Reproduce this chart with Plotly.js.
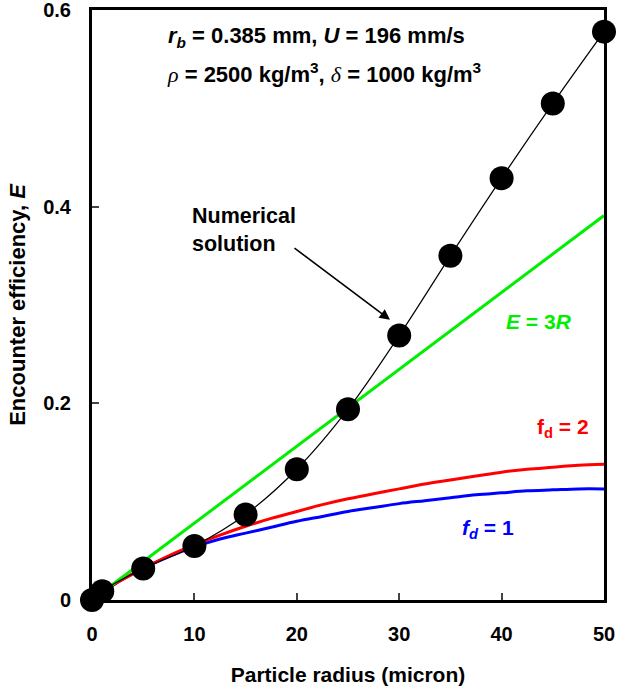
<!DOCTYPE html>
<html><head><meta charset="utf-8">
<script src="https://cdn.plot.ly/plotly-3.0.1.min.js"></script>
<style>body{margin:0;background:#fff}#c{width:617px;height:692px}</style>
</head><body><div id="c"></div>
<script>
// Numerical solution
const numX = [0, 1, 5, 10, 15, 20, 25, 30, 35, 40, 45, 50];
const numY = [0, 0.009, 0.032, 0.055, 0.087, 0.133, 0.194, 0.269, 0.350, 0.429, 0.505, 0.578];
// E = 3R line
const linX = [0, 50];
const linY = [0, 0.391];
// Analytic curves
const curveX = [0, 2.5, 5, 7.5, 10, 12.5, 15, 17.5, 20, 22.5, 25, 27.5, 30, 32.5, 35, 37.5, 40, 42.5, 45, 47.5, 50];
const fd2Y = [0, 0.018, 0.032, 0.045, 0.056, 0.066, 0.075, 0.083, 0.090, 0.097, 0.103, 0.108, 0.113, 0.118, 0.122, 0.126, 0.130, 0.133, 0.135, 0.137, 0.138];
const fd1Y = [0, 0.018, 0.032, 0.044, 0.054, 0.062, 0.068, 0.074, 0.080, 0.085, 0.090, 0.094, 0.098, 0.101, 0.104, 0.107, 0.109, 0.111, 0.112, 0.113, 0.113];
const xTicks = [0, 10, 20, 30, 40, 50];
const yTicks = [0, 0.2, 0.4, 0.6];
const yTickText = ['0', '0.2', '0.4', '0.6'];

const F = 'Liberation Sans, Arial, sans-serif';
const SER = 'font-family:Liberation Serif, Times New Roman, serif;font-weight:normal';
const traces = [
  {x: curveX, y: fd1Y, mode: 'lines', line: {color: '#0000ff', width: 3, shape: 'spline'}, cliponaxis: false},
  {x: curveX, y: fd2Y, mode: 'lines', line: {color: '#ff0000', width: 3, shape: 'spline'}, cliponaxis: false},
  {x: linX, y: linY, mode: 'lines', line: {color: '#00ee00', width: 3}, cliponaxis: false},
  {x: numX, y: numY, mode: 'lines+markers', line: {color: '#000', width: 1.2, shape: 'spline'},
   marker: {color: '#000', size: 24}, cliponaxis: false}
];
const layout = {
  width: 617, height: 692, showlegend: false,
  margin: {l: 92, r: 13, t: 10, b: 92},
  paper_bgcolor: '#fff', plot_bgcolor: '#fff',
  font: {family: F, color: '#000', size: 20},
  xaxis: {range: [0, 50], tickvals: xTicks, ticks: 'inside', ticklen: 7, tickwidth: 2,
    showline: true, linewidth: 3, linecolor: '#000', mirror: true, showgrid: false, zeroline: false,
    tickfont: {family: F, size: 20, color: '#000', weight: 'bold'}, ticklabelstandoff: 14,
    ticklabeloverflow: 'allow',
    title: {text: '<b>Particle radius (micron)</b>', font: {family: F, size: 21}, standoff: 24}},
  yaxis: {range: [0, 0.6], tickvals: yTicks, ticktext: yTickText, ticks: 'inside', ticklen: 7, tickwidth: 2,
    showline: true, linewidth: 3, linecolor: '#000', mirror: true, showgrid: false, zeroline: false,
    tickfont: {family: F, size: 20, color: '#000', weight: 'bold'}, ticklabelstandoff: 14,
    ticklabeloverflow: 'allow',
    title: {text: '<b>Encounter efficiency, <i>E</i></b>', font: {family: F, size: 22}, standoff: 12}},
  annotations: [
    {xref: 'paper', yref: 'paper', x: 0.4375, y: 0.954, showarrow: false, xanchor: 'center', yanchor: 'middle',
     text: '<b><i>r</i><sub><i>b</i></sub> = 0.385 mm, <i>U</i> = 196 mm/s</b>', font: {size: 22}},
    {xref: 'paper', yref: 'paper', x: 0.453, y: 0.893, showarrow: false, xanchor: 'center', yanchor: 'middle',
     text: '<span style="' + SER + '"><i>ρ</i></span><b> = 2500 kg/m<sup>3</sup>, </b><span style="' + SER + '"><i>δ</i></span><b> = 1000 kg/m<sup>3</sup></b>', font: {size: 22}},
    {xref: 'paper', yref: 'paper', x: 0.191, y: 0.627, showarrow: false, xanchor: 'left', yanchor: 'middle', align: 'left',
     text: '<b>Numerical<br>solution</b>', font: {size: 21.5}},
    {xref: 'x', yref: 'y', x: 29.1, y: 0.285, ax: 19.63, ay: 0.359, axref: 'x', ayref: 'y',
     showarrow: true, arrowhead: 2, arrowsize: 1.3, arrowwidth: 1.6, arrowcolor: '#000', text: ''},
    {xref: 'x', yref: 'y', x: 43.65, y: 0.283, showarrow: false,
     text: '<b><i>E</i> = 3<i>R</i></b>', font: {size: 21, color: '#00ee00'}},
    {xref: 'x', yref: 'y', x: 46.0, y: 0.1745, showarrow: false,
     text: '<b>f<sub>d</sub> = 2</b>', font: {size: 21, color: '#ff0000'}},
    {xref: 'x', yref: 'y', x: 38.7, y: 0.0724, showarrow: false,
     text: '<b><i>f<sub>d</sub></i> = 1</b>', font: {size: 21, color: '#0000ff'}}
  ]
};
Plotly.newPlot('c', traces, layout, {staticPlot: true});
</script></body></html>
